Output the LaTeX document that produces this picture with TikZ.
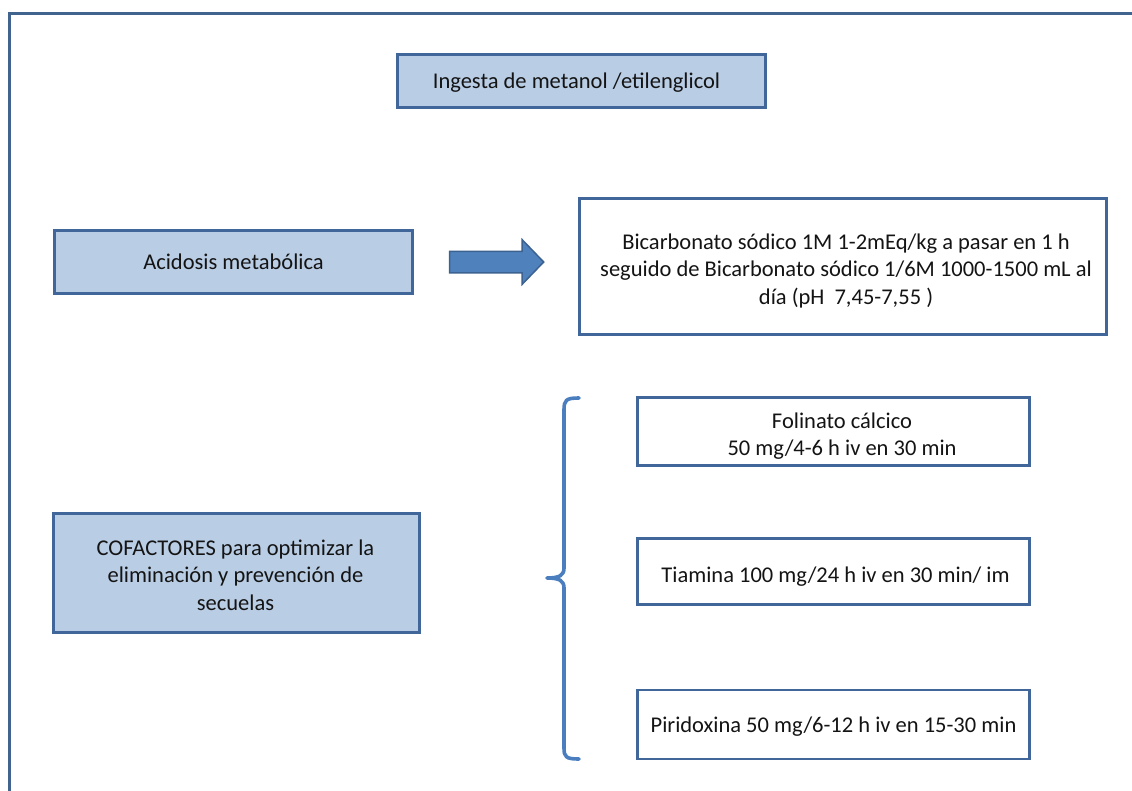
\documentclass[tikz,border=0pt]{standalone}
\usepackage{fontspec}
\setmainfont{Carlito}
\usetikzlibrary{shapes.arrows}
\definecolor{frameblue}{HTML}{41648F}
\definecolor{boxline}{HTML}{41679A}
\definecolor{boxfill}{HTML}{B9CDE5}
\definecolor{arrowfill}{HTML}{4F81BD}
\definecolor{arrowline}{HTML}{3B6290}
\definecolor{bracecol}{HTML}{4A7EBF}
\definecolor{ink}{HTML}{141414}
\tikzset{
  box/.style={draw=boxline, line width=2.6pt, inner sep=0pt, outer sep=0pt},
  bluebox/.style={box, fill=boxfill},
  whitebox/.style={box, fill=white},
  txt/.style={inner sep=0pt, align=center, text=ink,
    font=\fontsize{22.5}{27.5}\selectfont},
}
\begin{document}
\begin{tikzpicture}[x=1pt, y=-1pt]
  \useasboundingbox (0,0) rectangle (1132,790);
  \clip (0,0) rectangle (1132,790);
  \fill[white] (0,0) rectangle (1132,790);
  % outer frame, running past the right and lower edges
  \draw[frameblue, line width=3pt] (9,13) rectangle (1160,820);

  % title
  \node[bluebox, minimum width=368, minimum height=53] (ingesta) at (581.5,81) {};
  \node[txt] (ingesta-t) at ([shift={(-5,2)}]ingesta.center)
    {Ingesta de metanol /etilenglicol};

  % acidosis row
  \node[bluebox, minimum width=358, minimum height=63] (acidosis) at (233.5,262) {};
  \node[txt] (acidosis-t) at (acidosis.center) {Acidosis metabólica};
  \node[single arrow, draw=arrowline, fill=arrowfill, line width=1.5pt,
        inner xsep=0pt, inner ysep=10pt, outer sep=0pt,
        minimum height=94, single arrow head extend=11.5pt,
        single arrow tip angle=92]
        (flecha) at (491.5,262) {};
  \node[whitebox, minimum width=527, minimum height=136] (bicarb) at (843,266.5) {};
  \node[txt] (bicarb-t) at ([shift={(3,4)}]bicarb.center)
    {Bicarbonato sódico 1M 1-2mEq/kg a pasar en 1 h\\
     seguido de Bicarbonato sódico 1/6M 1000-1500 mL al\\
     día (pH\ \ 7,45-7,55 )};

  % cofactors
  \node[bluebox, minimum width=366, minimum height=119] (cofact) at (236.5,573) {};
  \node[txt] (cofact-t) at ([shift={(-1,2)}]cofact.center)
    {COFACTORES para optimizar la\\ eliminación y prevención de\\ secuelas};
  \node[whitebox, minimum width=392, minimum height=68] (folinato) at (833.5,431.5) {};
  \node[txt] (folinato-t) at ([shift={(8.5,4.5)}]folinato.center)
    {Folinato cálcico\\ 50 mg/4-6 h iv en 30 min};
  \node[whitebox, minimum width=392, minimum height=66] (tiamina) at (833.5,571.5) {};
  \node[txt] (tiamina-t) at ([shift={(2,5)}]tiamina.center)
    {Tiamina 100 mg/24 h iv en 30 min/ im};
  \node[whitebox, minimum width=392, minimum height=69] (piridox) at (833.5,724.5) {};
  \node[txt] (piridox-t) at ([shift={(0,2)}]piridox.center)
    {Piridoxina 50 mg/6-12 h iv en 15-30 min};

  % curly brace grouping the three cofactors
  \coordinate (btop) at (579,398);
  \coordinate (btip) at (547,578);
  \coordinate (bbot) at (579,759);
  \draw[bracecol, line width=3.6pt, line cap=round, line join=round]
    (btop) .. controls (566,398) and (564,400) .. (564,410)
    -- (564,568) .. controls (564,575) and (560,578) .. (btip)
    (btip) .. controls (560,578) and (564,581) .. (564,588)
    -- (564,748) .. controls (564,757) and (566,759) .. (bbot);
\end{tikzpicture}
\end{document}
